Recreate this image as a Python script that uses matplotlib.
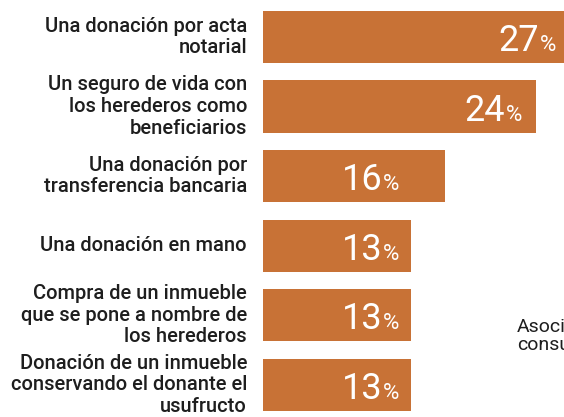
import matplotlib.pyplot as plt
import numpy as np

plt.rcParams['font.family'] = ['Roboto', 'DejaVu Sans']

# Data
labels = [
    "Una donación por acta\nnotarial",
    "Un seguro de vida con\nlos herederos como\nbeneficiarios",
    "Una donación por\ntransferencia bancaria",
    "Una donación en mano",
    "Compra de un inmueble\nque se pone a nombre de\nlos herederos",
    "Donación de un inmueble\nconservando el donante el\nusufructo",
]
values = [27, 24, 16, 13, 13, 13]
side_note = "Asocia\nconsu"

bar_color = '#C87236'
text_color = '#1e1e1e'

fig = plt.figure(figsize=(5.64, 4.17), dpi=100)
ax = fig.add_axes([263 / 564, 0, 301 / 564, 1])

y = np.arange(len(values))
ax.barh(y, values, height=0.75, color=bar_color)
ax.set_xlim(0, 26.5)
ax.set_ylim(5.464, -0.532)
ax.axis('off')

for yi, lab, v in zip(y, labels, values):
    # category label left of the bar
    ax.annotate(lab, xy=(0, yi), xytext=(-16, 0), textcoords='offset pixels',
                ha='right', va='center', fontsize=14.5, fontweight='medium',
                color=text_color, linespacing=1.17, annotation_clip=False)
    # value label: big number + small percent sign
    anchor = v - 1.2 if v > 20 else 12.0
    ax.annotate('%', xy=(anchor, yi), xytext=(0, -14), textcoords='offset pixels',
                ha='right', va='baseline', fontsize=16, color='white')
    ax.annotate(str(v), xy=(anchor, yi), xytext=(-17, -14), textcoords='offset pixels',
                ha='right', va='baseline', fontsize=26, color='white')

fig.text(517 / 564, 1 - 336 / 417, side_note, ha='left', va='center',
         fontsize=14, color=text_color, linespacing=0.95)

fig.savefig('out.png', dpi=100)
